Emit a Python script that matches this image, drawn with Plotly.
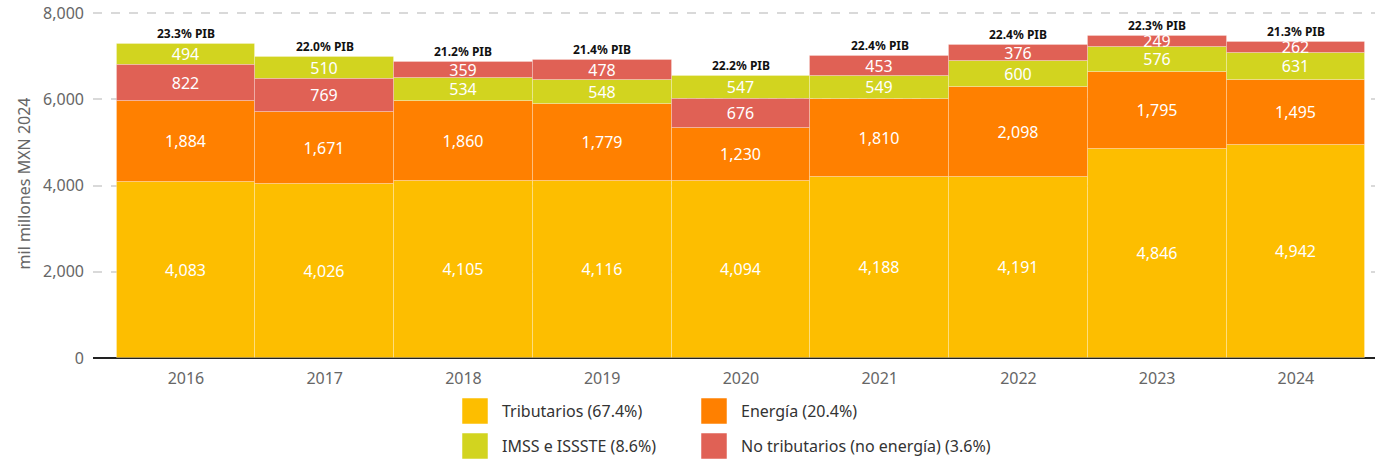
import plotly.graph_objects as go

years = ["2016", "2017", "2018", "2019", "2020", "2021", "2022", "2023", "2024"]
tributarios = [4083, 4026, 4105, 4116, 4094, 4188, 4191, 4846, 4942]
energia = [1884, 1671, 1860, 1779, 1230, 1810, 2098, 1795, 1495]
imss = [494, 510, 534, 548, 547, 549, 600, 576, 631]
no_trib = [822, 769, 359, 478, 676, 453, 376, 249, 262]
pib = [23.3, 22.0, 21.2, 21.4, 22.2, 22.4, 22.4, 22.3, 21.3]

series_names = ["Tributarios (67.4%)", "Energía (20.4%)", "IMSS e ISSSTE (8.6%)",
                "No tributarios (no energía) (3.6%)"]
series_vals = [tributarios, energia, imss, no_trib]
colors = ["#FDBE00", "#FF8000", "#D2D41F", "#E06155"]

FONT = "Noto Sans"

# stack segments sorted by value (largest at bottom) in each year
bases = [[0] * len(years) for _ in series_vals]
for j in range(len(years)):
    order = sorted(range(len(series_vals)), key=lambda i: -series_vals[i][j])
    acc = 0
    for i in order:
        bases[i][j] = acc
        acc += series_vals[i][j]
totals = [sum(s[j] for s in series_vals) for j in range(len(years))]

fig = go.Figure()
for i, name in enumerate(series_names):
    fig.add_trace(go.Bar(
        x=years, y=series_vals[i], base=bases[i], name=name,
        marker=dict(color=colors[i], line=dict(color="rgba(255,255,255,0.25)", width=1)),
        width=1,
        text=[f"{v:,}" for v in series_vals[i]],
        textposition="inside", insidetextanchor="middle", textangle=0,
        constraintext="none",
        textfont=dict(family=FONT, size=16, color="white"),
        showlegend=False, hoverinfo="skip",
    ))

for j, y in enumerate(years):
    fig.add_annotation(x=j, y=totals[j], text=f"<b>{pib[j]:.1f}% PIB</b>",
                       showarrow=False, yanchor="bottom", yshift=0,
                       font=dict(family=FONT, size=12, color="#111"))

# plot area geometry (pixels): 0 at y=358, 8000 at y=13
W, H = 1375, 459
L, T, BOT = 93, 9, 358
PW, PH = W - L, BOT - T
ymax = PH * 8000 / 345

# custom legend
leg_pos = [(462, 398), (701, 398), (462, 433), (701, 433)]
for i, name in enumerate(series_names):
    x0, y0 = leg_pos[i]
    fig.add_shape(type="rect", xref="paper", yref="paper",
                  x0=(x0 - L) / PW, x1=(x0 + 26 - L) / PW,
                  y0=(BOT - y0) / PH, y1=(BOT - y0 - 26) / PH,
                  fillcolor=colors[i], line=dict(width=1, color="rgba(255,255,255,0.5)"))
    fig.add_annotation(xref="paper", yref="paper",
                       x=(x0 + 38 - L) / PW, y=(BOT - y0 - 13) / PH,
                       text=name, showarrow=False, xanchor="left", yanchor="middle",
                       font=dict(family=FONT, size=16, color="#333"))

fig.update_layout(
    width=W, height=H,
    margin=dict(l=L, r=0, t=T, b=H - BOT, autoexpand=False),
    paper_bgcolor="white", plot_bgcolor="white",
    barmode="overlay", bargap=0,
    uniformtext=dict(minsize=16, mode="show"),
    xaxis=dict(type="category", range=[-0.67, 8.57], showgrid=False, showline=False,
               zeroline=False, tickfont=dict(family=FONT, size=16, color="#666"), ticks="",
               ticklabelstandoff=9),
    yaxis=dict(range=[0, ymax], tickvals=[0, 2000, 4000, 6000, 8000], tickformat=",",
               showgrid=True, gridcolor="#D9D9D9", griddash="dash", gridwidth=1.5,
               zeroline=True, zerolinecolor="#222", zerolinewidth=2,
               tickfont=dict(family=FONT, size=16, color="#666"),
               title=dict(text="mil millones MXN 2024", font=dict(family=FONT, size=16, color="#666"),
                          standoff=8),
               ticklabelstandoff=8),
    showlegend=False,
)

fig.write_html("out.html", config={"displayModeBar": False},
               post_script="document.body.style.margin='0';")
